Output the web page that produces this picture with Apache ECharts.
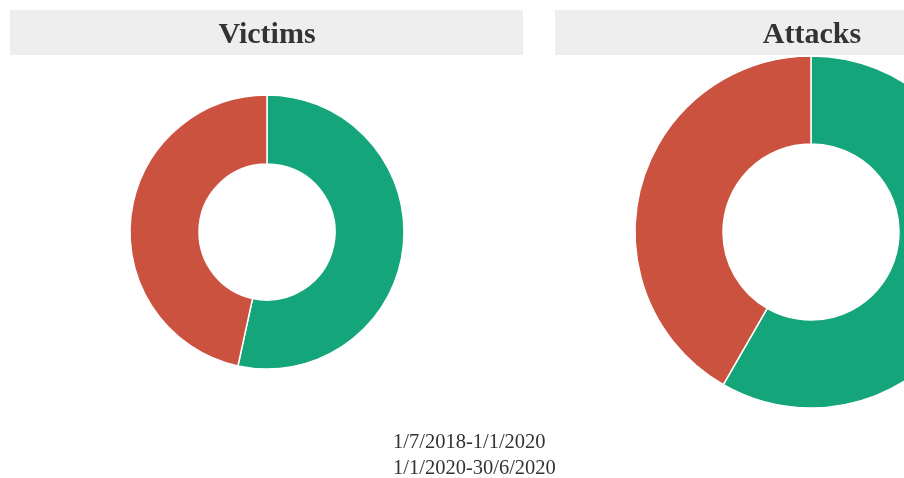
<!DOCTYPE html>
<html><head><meta charset="utf-8">
<script src="https://cdn.jsdelivr.net/npm/echarts@6/dist/echarts.min.js"></script>
<style>html,body{margin:0;padding:0;background:#fff}#c{width:904px;height:478px}</style>
</head><body><div id="c"></div>
<script>
const periods = ["1/7/2018-1/1/2020", "1/1/2020-30/6/2020"];
const panelTitles = ["Victims", "Attacks"];
const victimsValues = [53.4, 46.6];
const attacksValues = [58.3, 41.7];
const colors = ["#14a67a", "#cc5240"];

const chart = echarts.init(document.getElementById('c'));
const serif = '"Liberation Serif", "DejaVu Serif", serif';
chart.setOption({
  animation: false,
  color: colors,
  graphic: [
    {type: 'rect', left: 10, top: 10, shape: {width: 513, height: 45}, style: {fill: '#eeeeee'}, z: -1},
    {type: 'rect', left: 555, top: 10, shape: {width: 513, height: 45}, style: {fill: '#eeeeee'}, z: -1}
  ],
  title: [
    {text: panelTitles[0], left: 262, top: 15, textAlign: 'center',
     textStyle: {fontFamily: serif, fontWeight: 'bold', fontSize: 30, color: '#333'}},
    {text: panelTitles[1], left: 807, top: 15, textAlign: 'center',
     textStyle: {fontFamily: serif, fontWeight: 'bold', fontSize: 30, color: '#333'}}
  ],
  legend: {
    orient: 'vertical', left: 388, top: 432, height: 60, padding: 0, itemGap: 5,
    itemWidth: 0, itemHeight: 0,
    icon: 'none', data: periods,
    textStyle: {fontFamily: serif, fontSize: 20.5, color: '#333'}
  },
  series: [
    {type: 'pie', name: panelTitles[0], center: [267, 232], radius: [68, 137],
     startAngle: 90, clockwise: true, label: {show: false}, labelLine: {show: false},
     itemStyle: {borderColor: '#fff', borderWidth: 1.5},
     data: periods.map((p, i) => ({name: p, value: victimsValues[i]}))},
    {type: 'pie', name: panelTitles[1], center: [811, 232], radius: [88, 176],
     startAngle: 90, clockwise: true, label: {show: false}, labelLine: {show: false},
     itemStyle: {borderColor: '#fff', borderWidth: 1.5},
     data: periods.map((p, i) => ({name: p, value: attacksValues[i]}))}
  ]
});
</script></body></html>
